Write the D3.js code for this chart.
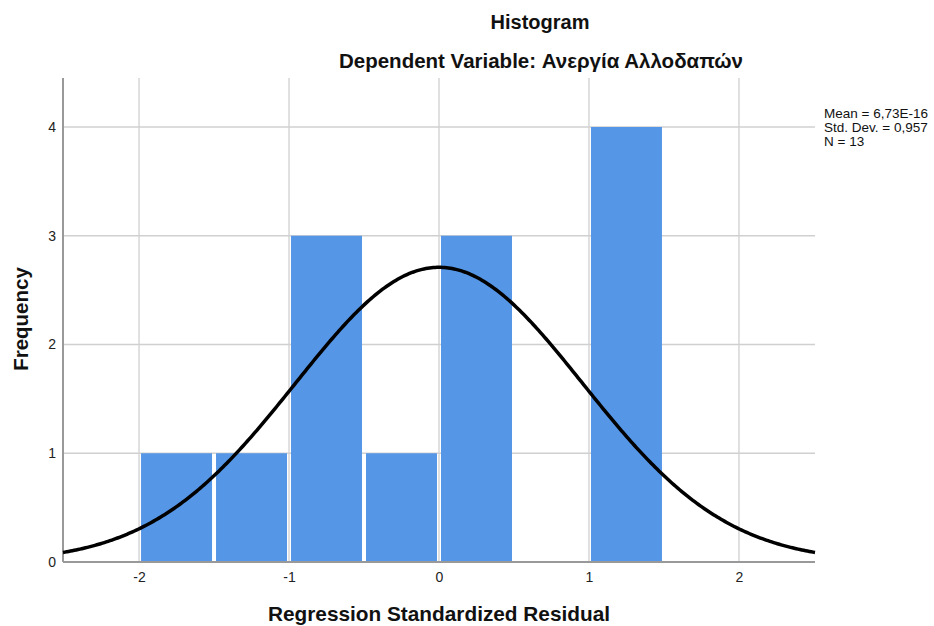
<!DOCTYPE html>
<html><head><meta charset="utf-8">
<script src="https://cdn.jsdelivr.net/npm/d3@7"></script>
<style>body{margin:0;background:#fff}svg{display:block;font-family:"Liberation Sans",Arial,sans-serif}</style>
</head><body>
<svg id="c" width="934" height="626"></svg>
<script>
const binStarts = [-2, -1.5, -1, -0.5, 0, 0.5, 1];
const binWidth = 0.5;
const frequencies = [1, 1, 3, 1, 3, 0, 4];
const xTicks = [-2, -1, 0, 1, 2];
const yTicks = [0, 1, 2, 3, 4];
const stats = { mean: 6.73e-16, sd: 0.957, n: 13 };
const legendLines = ["Mean = 6,73E-16", "Std. Dev. = 0,957", "N = 13"];
const titleText = "Histogram";
const subtitleText = "Dependent Variable: Ανεργία Αλλοδαπών";
const xLabel = "Regression Standardized Residual";
const yLabel = "Frequency";

const svg = d3.select("#c");
const L = 63, R = 815, T = 78, B = 562;
const x = d3.scaleLinear().domain([-2.507, 2.507]).range([L, R]);
const y = d3.scaleLinear().domain([0, 4]).range([B, 127]);

// grid
svg.append("g").selectAll("line").data(xTicks).join("line")
  .attr("x1", d => x(d)).attr("x2", d => x(d)).attr("y1", T).attr("y2", B)
  .attr("stroke", "#d0d0d0").attr("stroke-width", 1.3);
svg.append("g").selectAll("line").data(yTicks.filter(d => d > 0)).join("line")
  .attr("x1", L).attr("x2", R).attr("y1", d => y(d)).attr("y2", d => y(d))
  .attr("stroke", "#d0d0d0").attr("stroke-width", 1.3);

// bars
svg.append("g").selectAll("rect").data(binStarts.map((s, i) => ({s, f: frequencies[i]})).filter(d => d.f > 0)).join("rect")
  .attr("x", d => x(d.s) + 2).attr("width", d => x(d.s + binWidth) - x(d.s) - 4)
  .attr("y", d => y(d.f)).attr("height", d => y(0) - y(d.f))
  .attr("fill", "#5596e6");

// axes
const fmt = d => String(d);
const xAxis = svg.append("g").attr("transform", `translate(0,${B})`)
  .call(d3.axisBottom(x).tickValues(xTicks).tickSize(0).tickPadding(10).tickFormat(fmt));
const yAxis = svg.append("g").attr("transform", `translate(${L},0)`)
  .call(d3.axisLeft(y).tickValues(yTicks).tickSize(0).tickPadding(7).tickFormat(fmt));
[xAxis, yAxis].forEach(a => {
  a.select(".domain").attr("stroke", "#999").attr("stroke-width", 2);
  a.selectAll("text").attr("font-size", 14).attr("fill", "#222").attr("font-family", "Liberation Sans, Arial, sans-serif");
});
xAxis.select(".domain").attr("d", `M${L},0H${R}`);
yAxis.select(".domain").attr("d", `M0,${T}V${B}`);

// normal curve
const pdf = v => stats.n * binWidth * Math.exp(-0.5 * ((v - stats.mean) / stats.sd) ** 2) / (stats.sd * Math.sqrt(2 * Math.PI));
const xs = d3.range(0, 401).map(i => x.domain()[0] + i * (x.domain()[1] - x.domain()[0]) / 400);
svg.append("path").datum(xs)
  .attr("d", d3.line().x(d => x(d)).y(d => y(pdf(d))))
  .attr("fill", "none").attr("stroke", "#000").attr("stroke-width", 3.5);

// titles
svg.append("text").attr("x", 540).attr("y", 29).attr("text-anchor", "middle")
  .attr("font-size", 20).attr("font-weight", "bold").attr("fill", "#111").text(titleText);
svg.append("text").attr("x", 541).attr("y", 68).attr("text-anchor", "middle")
  .attr("font-size", 20.5).attr("font-weight", "bold").attr("fill", "#111").text(subtitleText);
svg.append("text").attr("x", 439).attr("y", 621).attr("text-anchor", "middle")
  .attr("font-size", 20.8).attr("font-weight", "bold").attr("fill", "#111").text(xLabel);
svg.append("text").attr("transform", "translate(28,319) rotate(-90)").attr("text-anchor", "middle")
  .attr("font-size", 20.5).attr("font-weight", "bold").attr("fill", "#111").text(yLabel);

// legend
svg.append("g").selectAll("text").data(legendLines).join("text")
  .attr("x", 824).attr("y", (d, i) => 118 + i * 14)
  .attr("font-size", 13.5).attr("fill", "#111").text(d => d);
</script>
</body></html>
